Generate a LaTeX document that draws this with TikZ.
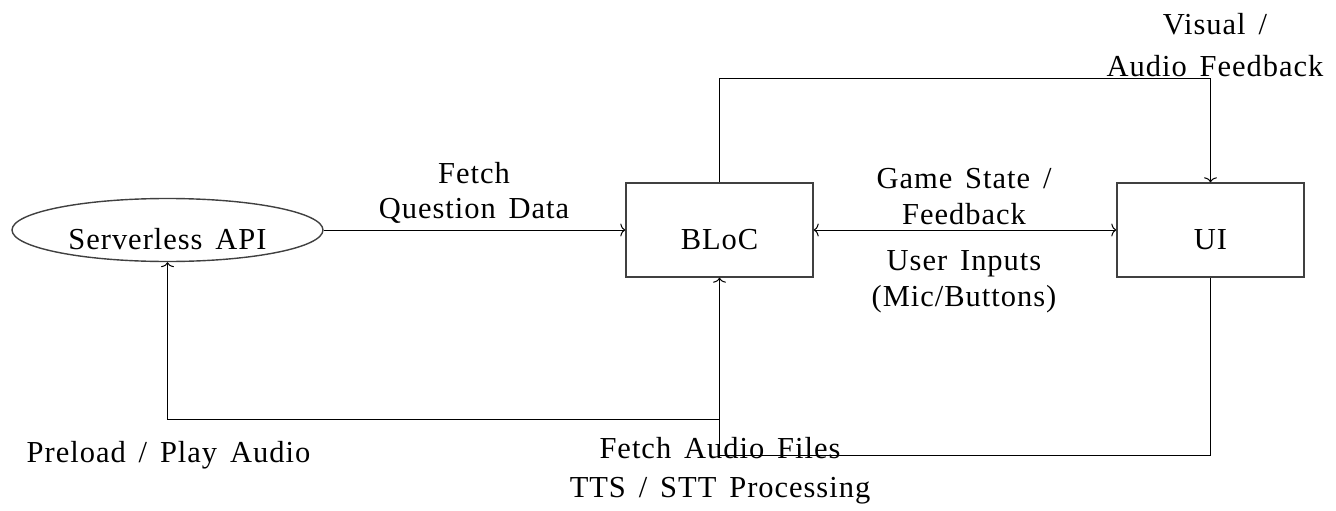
\documentclass[tikz,border=0pt]{standalone}
\usepackage{fontspec}
\setmainfont{Liberation Serif}[LetterSpace=3.2, WordSpace=1.5]
\usetikzlibrary{shapes.geometric,arrows.meta}
\begin{document}
\begin{tikzpicture}[x=1pt,y=-1pt,
  every node/.style={font=\fontsize{30.5}{36}\selectfont},
  conn/.style={line width=1pt, draw=black, arrows={-To[length=5pt,width=13pt]}},
  bothconn/.style={line width=1pt, draw=black, arrows={To[length=5pt,width=13pt]-To[length=5pt,width=13pt]}},
  boxnode/.style={draw=black!75, line width=1.4pt, rectangle, minimum width=187pt, minimum height=94pt, inner sep=0pt, text height=38pt, text depth=0pt},
  ellnode/.style={draw=black!75, line width=1.4pt, ellipse, minimum width=311pt, minimum height=63pt, inner sep=0pt, text height=38pt, text depth=0pt},
  lbl/.style={inner sep=0pt, anchor=base}
]
\useasboundingbox (0,0) rectangle (1336,511);

\node[ellnode] (api) at (167.5,230) {Serverless API};
\node[boxnode] (bloc) at (719.5,230) {BLoC};
\node[boxnode] (ui) at (1210.5,230) {UI};

\coordinate (top) at (0,79);
\coordinate (low1) at (0,419);
\coordinate (low2) at (0,455);

\draw[conn] (api.east) -- (bloc.west);
\draw[bothconn] (bloc.east) -- (ui.west);
\draw[conn] (bloc.north) -- (bloc.north |- top) -| (ui.north);
\draw[conn] (bloc.south) -- (bloc.south |- low1) -| (api.south);
\draw[conn] (ui.south) -- (ui.south |- low2) -| (bloc.south);

\node[lbl] (lfetchq) at (474,183) {\begin{tabular}[t]{@{}c@{}}Fetch\\[-1pt] Question Data\end{tabular}};
\node[lbl] (lgame) at (964,188) {\begin{tabular}[t]{@{}c@{}}Game State /\\ Feedback\end{tabular}};
\node[lbl] (luser) at (964,270) {\begin{tabular}[t]{@{}c@{}}User Inputs\\ (Mic/Buttons)\end{tabular}};
\node[lbl] (lvis) at (1215,35) {\begin{tabular}[t]{@{}c@{}}Visual /\\[6pt] Audio Feedback\end{tabular}};
\node[lbl] (lpre) at (168.5,462) {Preload / Play Audio};
\node[lbl] (lfa) at (720,458) {Fetch Audio Files};
\node[lbl] (ltts) at (720,497) {TTS / STT Processing};
\end{tikzpicture}
\end{document}
